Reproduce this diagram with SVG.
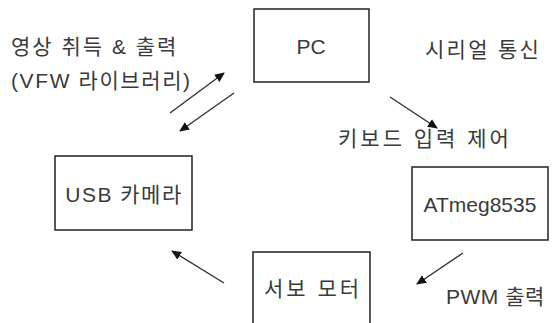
<svg xmlns="http://www.w3.org/2000/svg" width="555" height="323" viewBox="0 0 555 323">
<style>
.box{fill:#fff;stroke:#222;stroke-width:1.5}
.t{font-family:"Liberation Sans","Noto Sans CJK KR",sans-serif;font-size:21px;fill:#3a3a3a}
.c{stroke:#333;stroke-width:1.4;fill:none;marker-end:url(#ah)}
</style>
<defs>
<marker id="ah" viewBox="0 0 10 10" refX="9" refY="5" markerWidth="10" markerHeight="10" markerUnits="userSpaceOnUse" orient="auto">
<path d="M0,0.5 L10,5 L0,9.5 z" fill="#111"/>
</marker>
</defs>
<rect width="555" height="323" fill="#fff"/>
<g id="connectors">
<line class="c" x1="170" y1="113" x2="224" y2="73"/>
<line class="c" x1="234" y1="93" x2="180" y2="131"/>
<line class="c" x1="390" y1="97" x2="437" y2="128"/>
<line class="c" x1="463" y1="253" x2="417" y2="284"/>
<line class="c" x1="224" y1="283" x2="172" y2="251"/>
</g>
<g id="pc"><rect class="box" x="254" y="9" width="115" height="73"/><text class="t" x="311" y="54" text-anchor="middle">PC</text></g>
<g id="usb"><rect class="box" x="55" y="156" width="137" height="74"/><text class="t" x="124" y="202" text-anchor="middle" letter-spacing="1.5">USB 카메라</text></g>
<g id="atmega"><rect class="box" x="412" y="167" width="136" height="73"/><text class="t" x="480" y="212" text-anchor="middle">ATmeg8535</text></g>
<g id="servo"><rect class="box" x="253" y="252" width="117" height="80"/><text class="t" x="313" y="296" text-anchor="middle" letter-spacing="3">서보 모터</text></g>
<g id="labels">
<text class="t" x="11" y="54" letter-spacing="2">영상 취득 &amp; 출력</text>
<text class="t" x="11" y="88" letter-spacing="1.6">(VFW 라이브러리)</text>
<text class="t" x="425" y="57" letter-spacing="2.3">시리얼 통신</text>
<text class="t" x="338" y="146" letter-spacing="3">키보드 입력 제어</text>
<text class="t" x="446" y="304" letter-spacing="0.5">PWM 출력</text>
</g>
</svg>
